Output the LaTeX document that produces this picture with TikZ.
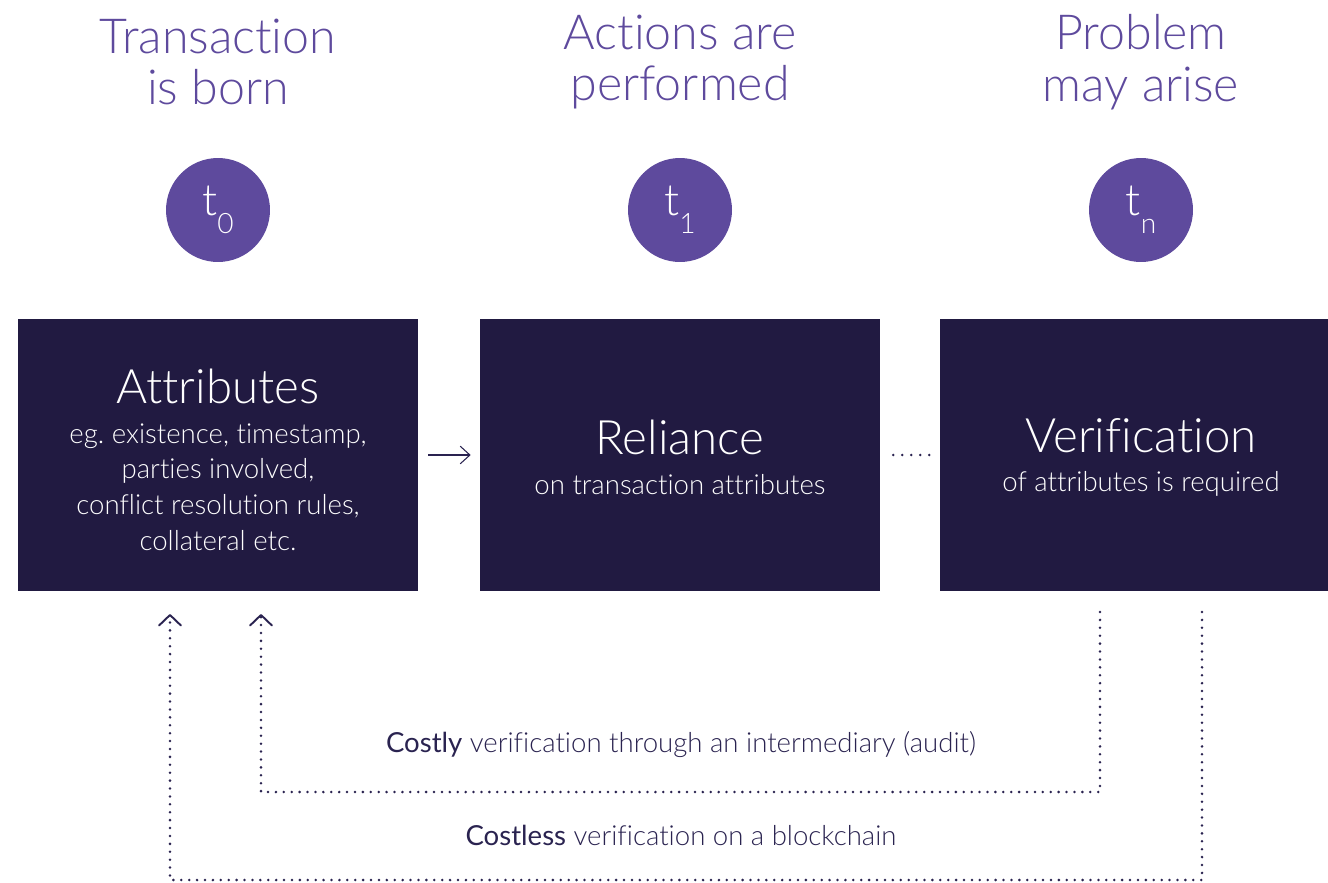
\documentclass[tikz,border=0pt]{standalone}
\usepackage{fontspec}
\setmainfont{Lato}[UprightFont={* Light},BoldFont={* Regular},RawFeature={-liga}]
\usetikzlibrary{arrows.meta,positioning}
\definecolor{navy}{HTML}{211A41}
\definecolor{violet}{HTML}{5E4A9D}
\definecolor{ink}{HTML}{2A2350}
\newcommand{\tsub}[1]{t\raisebox{-0.42em}{\fontsize{16}{16}\selectfont #1}}
\newcommand{\bighead}{\fontsize{27}{30}\selectfont}

\begin{document}
\begin{tikzpicture}[x=0.02cm,y=-0.02cm,
  title/.style={font=\fontsize{27.5}{29.5}\selectfont,text=violet,align=center},
  stamp/.style={circle,fill=violet,text=white,minimum size=2.08cm,inner sep=0pt,font=\fontsize{25}{25}\selectfont},
  box/.style={fill=navy,minimum width=8cm,minimum height=5.46cm},
  boxtext/.style={text=white,align=center,font=\fontsize{15.7}{20.4}\selectfont},
  dotline/.style={draw=ink,line width=1.6pt,dash pattern=on 0pt off 4.5pt,line cap=round},
  tip/.style={-{Straight Barb[length=6pt,width=12.5pt,line width=1.1pt,line cap=round,line join=round]}},
  caption/.style={text=ink,font=\fontsize{15.7}{17}\selectfont}]
\useasboundingbox (0,0) rectangle (1328,882);

% titles
\node [title] (born) at (218,62) {Transaction\\is born};
\node [title] (performed) at (680,62) {Actions are\\performed};
\node [title] (arise) at (1141,62) {Problem\\may arise};

% moments
\node [stamp] (t0) at (218,210) {\tsub{0}};
\node [stamp] (t1) at (680,210) {\tsub{1}};
\node [stamp] (tn) at (1141,210) {\tsub{n}};

% boxes
\node [box] (attr) at (218,455) {};
\node [box] (rel) at (680,455) {};
\node [box,minimum width=7.76cm] (verif) at (1134,455) {};
\node [boxtext] (attrtext) at ([yshift=-0.1cm]attr.center) {{\bighead Attributes}\\[2pt]
  eg.\ existence, timestamp,\\ parties involved,\\ conflict resolution rules,\\ collateral etc.};
\node [boxtext] (reltext) at ([yshift=-0.05cm]rel.center) {{\bighead Reliance}\\[2pt] on transaction attributes};
\node [boxtext] (veriftext) at ([xshift=0.14cm,yshift=-0.05cm]verif.center) {{\bighead Verification}\\[2pt] of attributes is required};

\draw [ink,line width=0.6pt,-{Straight Barb[length=5.5pt,width=10pt]},shorten <=0.2cm,shorten >=0.18cm] (attr) -- (rel);
\draw [ink,line width=1.6pt,dash pattern=on 0pt off 5.1pt,line cap=round,shorten <=0.26cm,shorten >=0.2cm] (rel) -- (verif);

% verification paths
\coordinate (auditfrom) at (1100,612);
\coordinate (auditto) at (261,614);
\coordinate (chainfrom) at (1202,612);
\coordinate (chainto) at (170,614);
\draw [dotline,tip] (auditfrom) |- (261,792) -- (auditto);
\draw [dotline,tip] (chainfrom) |- (170,880) -- (chainto);

\node [caption] (audit) at (681,745) {\textbf{Costly} verification through an intermediary (audit)};
\node [caption] (chain) at (681,835) {\textbf{Costless} verification on a blockchain};
\end{tikzpicture}
\end{document}
